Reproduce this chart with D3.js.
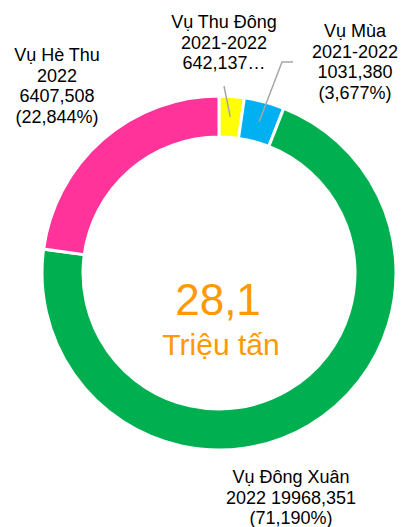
<!DOCTYPE html>
<html>
<head>
<meta charset="utf-8">
<script src="https://cdn.jsdelivr.net/npm/d3@7"></script>
<style>
  html, body { margin: 0; padding: 0; background: #fff; }
  #chart { width: 401px; height: 527px; }
  text { font-family: "Liberation Sans", Arial, sans-serif; }
</style>
</head>
<body>
<div id="chart"></div>
<script>
// Data (thousand tonnes)
const seasons = ["Vụ Thu Đông", "Vụ Mùa", "Vụ Đông Xuân", "Vụ Hè Thu"];
const years = ["2021-2022", "2021-2022", "2022", "2022"];
const values = [642.137, 1031.380, 19968.351, 6407.508];
const colors = ["#FFFF00", "#00B0F0", "#00B050", "#FF3399"];
const centerValue = "28,1";
const centerUnit = "Triệu tấn";

const width = 401, height = 527;
const cx = 219, cy = 273;
const outerR = 177, innerR = 136;

const vn = d3.formatLocale({ decimal: ",", thousands: ".", grouping: [3], currency: ["", ""] });
const fmtVal = vn.format(".3f");
const fmtPct = vn.format(".3f");
const total = d3.sum(values);

const entries = seasons.map((s, i) => ({
  key: s, year: years[i], value: values[i], color: colors[i],
  pct: values[i] / total * 100
}));

// label lines per slice (Thu Dong label is clipped in the original)
const labelLines = [
  d => [d.key, d.year, fmtVal(d.value) + "…"],
  d => [d.key, d.year, fmtVal(d.value), "(" + fmtPct(d.pct) + "%)"],
  d => [d.key, d.year + " " + fmtVal(d.value), "(" + fmtPct(d.pct) + "%)"],
  d => [d.key, d.year, fmtVal(d.value), "(" + fmtPct(d.pct) + "%)"]
];
// label anchor (x center, first baseline) in pixels
const labelPos = [[224, 28], [355, 37], [291, 483], [57, 61]];
const lineGap = 20.7;

const svg = d3.select("#chart").append("svg")
  .attr("width", width).attr("height", height)
  .attr("viewBox", `0 0 ${width} ${height}`);

const g = svg.append("g").attr("transform", `translate(${cx}, ${cy})`);

const pie = d3.pie().sort(null).value(d => d.value);
const arc = d3.arc().innerRadius(innerR).outerRadius(outerR);
const midArc = d3.arc().innerRadius((innerR + outerR) / 2).outerRadius((innerR + outerR) / 2);
const arcs = pie(entries);

g.selectAll("path.slice")
  .data(arcs)
  .enter()
  .append("path")
  .attr("class", "slice")
  .attr("d", arc)
  .attr("fill", d => d.data.color)
  .attr("stroke", "#fff")
  .attr("stroke-width", 3);

// leader lines for the two small slices
const leaders = [
  { i: 0, pts: [[224, 86]] },
  { i: 1, pts: [[293, 62], [282, 62]] }
];
leaders.forEach(l => {
  const c = midArc.centroid(arcs[l.i]);
  const pts = l.pts.map(p => [p[0] - cx, p[1] - cy]).concat([c]);
  g.append("path")
    .attr("d", d3.line()(pts))
    .attr("fill", "none")
    .attr("stroke", "#A6A6A6")
    .attr("stroke-width", 1.5);
});

// slice labels
entries.forEach((d, i) => {
  const t = svg.append("text")
    .attr("text-anchor", "middle")
    .attr("font-size", 18)
    .attr("fill", "#000");
  labelLines[i](d).forEach((line, k) => {
    t.append("tspan")
      .attr("x", labelPos[i][0])
      .attr("y", labelPos[i][1] + k * lineGap)
      .text(line);
  });
});

// center text
g.append("text")
  .attr("text-anchor", "middle")
  .attr("x", -1).attr("y", 42)
  .attr("font-size", 44)
  .attr("fill", "#FF9900")
  .text(centerValue);
g.append("text")
  .attr("text-anchor", "middle")
  .attr("x", 2).attr("y", 82)
  .attr("font-size", 30)
  .attr("fill", "#FF9900")
  .text(centerUnit);
</script>
</body>
</html>
